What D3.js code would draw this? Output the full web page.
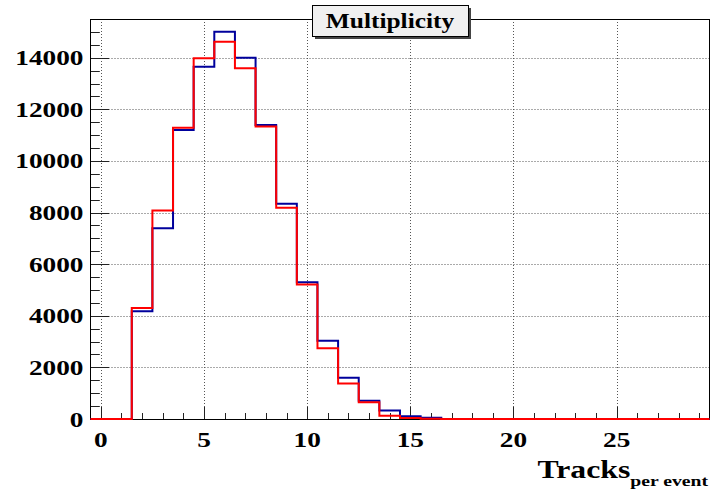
<!DOCTYPE html>
<html>
<head>
<meta charset="utf-8">
<script src="https://cdn.jsdelivr.net/npm/d3@7"></script>
<style>
  html, body { margin: 0; padding: 0; background: #fff; }
  svg { display: block; }
</style>
</head>
<body>
<svg id="chart" width="711" height="490"></svg>
<script>
// Track multiplicity per event: two histograms, one bin per integer track count.
const binCenters = d3.range(0, 30);
const seriesBlue = [0, 0, 4180, 7390, 11200, 13650, 15010, 14000, 11390, 8340,
                    5300, 3035, 1600, 710, 325, 105, 50, 0, 0, 0,
                    0, 0, 0, 0, 0, 0, 0, 0, 0, 0];
const seriesRed  = [0, 0, 4300, 8080, 11290, 13975, 14620, 13590, 11330, 8190,
                    5210, 2740, 1380, 645, 130, 35, 10, 0, 0, 0,
                    0, 0, 0, 0, 0, 0, 0, 0, 0, 0];
const xTickLabels = [0, 5, 10, 15, 20, 25];
const yTickLabels = [0, 2000, 4000, 6000, 8000, 10000, 12000, 14000];

const titleText = "Multiplicity";
const xTitle = "Tracks";
const xTitleSub = "per event";

const W = 711, H = 490;
const frame = { left: 90.5, right: 709.5, top: 19, bottom: 419 };
const SX = 1.27;               // horizontal stretch applied to all text
const font = "'Liberation Serif', 'Times New Roman', serif";

const svg = d3.select("#chart");

const x = d3.scaleLinear().domain([-0.5, 29.5]).range([frame.left, frame.right]);
const y = d3.scaleLinear().domain([0, 15500]).range([frame.bottom, frame.top]);

// dotted grid at the major divisions
const grid = svg.append("g").attr("stroke", "#555").attr("stroke-width", 1)
  .attr("stroke-dasharray", "1 2").attr("fill", "none");
grid.selectAll("line.gx").data(xTickLabels).join("line")
  .attr("x1", d => Math.round(x(d)) + 0.5).attr("x2", d => Math.round(x(d)) + 0.5)
  .attr("y1", frame.top).attr("y2", frame.bottom);
grid.selectAll("line.gy").data(yTickLabels.filter(d => d > 0)).join("line")
  .attr("y1", d => Math.round(y(d)) + 0.5).attr("y2", d => Math.round(y(d)) + 0.5)
  .attr("x1", frame.left).attr("x2", frame.right);

// ticks pointing into the frame
const ticks = svg.append("g").attr("stroke", "#222").attr("stroke-width", 1);
const yMinor = d3.range(0, 15501, 500);
ticks.selectAll("line.ty").data(yMinor).join("line")
  .attr("x1", frame.left)
  .attr("x2", d => frame.left + (d % 2000 === 0 ? 18.6 : 9.3))
  .attr("y1", d => Math.round(y(d)) + 0.5).attr("y2", d => Math.round(y(d)) + 0.5);
const xMinor = d3.range(0, 30, 1);
ticks.selectAll("line.tx").data(xMinor).join("line")
  .attr("y1", frame.bottom)
  .attr("y2", d => frame.bottom - (d % 5 === 0 ? 12 : 6))
  .attr("x1", d => Math.round(x(d)) + 0.5).attr("x2", d => Math.round(x(d)) + 0.5);

// frame
svg.append("rect")
  .attr("x", frame.left).attr("y", frame.top + 0.5)
  .attr("width", frame.right - frame.left).attr("height", frame.bottom - frame.top)
  .attr("fill", "none").attr("stroke", "#000").attr("stroke-width", 1);

// histogram outlines as steps over bin edges
function stepPoints(values) {
  const pts = values.map((v, i) => [binCenters[i] - 0.5, v]);
  pts.push([binCenters[binCenters.length - 1] + 0.5, values[values.length - 1]]);
  return pts;
}
const line = d3.line().x(d => x(d[0])).y(d => y(d[1])).curve(d3.curveStepAfter);

svg.append("path").attr("d", line(stepPoints(seriesBlue)))
  .attr("fill", "none").attr("stroke", "#00009c").attr("stroke-width", 2);
svg.append("path").attr("d", line(stepPoints(seriesRed)))
  .attr("fill", "none").attr("stroke", "#ff0000").attr("stroke-width", 2);

// tick labels
const labelSize = 21.5;
svg.append("g").selectAll("text").data(yTickLabels).join("text")
  .attr("transform", d => `translate(${frame.left - 7},${y(d)}) scale(${SX},1)`)
  .attr("text-anchor", "end").attr("dy", "0.35em")
  .attr("font-family", font).attr("font-weight", "bold").attr("font-size", labelSize)
  .attr("fill", "#000").text(d => d);
svg.append("g").selectAll("text").data(xTickLabels).join("text")
  .attr("transform", d => `translate(${x(d)},${frame.bottom + 28}) scale(${SX},1)`)
  .attr("text-anchor", "middle")
  .attr("font-family", font).attr("font-weight", "bold").attr("font-size", labelSize)
  .attr("fill", "#000").text(d => d);

// axis title with subscript
const xt = svg.append("text")
  .attr("transform", `translate(708,${478}) scale(${SX},1)`)
  .attr("text-anchor", "end")
  .attr("font-family", font).attr("font-weight", "bold").attr("fill", "#000");
xt.append("tspan").attr("font-size", 25).text(xTitle);
xt.append("tspan").attr("font-size", 15.5).attr("dy", 8).text(xTitleSub);

// title box with shadow
const tb = { x: 312, y: 5, w: 156, h: 31 };
svg.append("rect").attr("x", tb.x + 3).attr("y", tb.y + 3).attr("width", tb.w).attr("height", tb.h)
  .attr("fill", "#444");
svg.append("rect").attr("x", tb.x + 0.5).attr("y", tb.y + 0.5).attr("width", tb.w).attr("height", tb.h)
  .attr("fill", "#f0f0f0").attr("stroke", "#000").attr("stroke-width", 1);
svg.append("text")
  .attr("transform", `translate(${tb.x + tb.w / 2},${tb.y + tb.h / 2 + 7}) scale(${SX},1)`)
  .attr("text-anchor", "middle")
  .attr("font-family", font).attr("font-weight", "bold").attr("font-size", 20)
  .attr("fill", "#000").text(titleText);
</script>
</body>
</html>
